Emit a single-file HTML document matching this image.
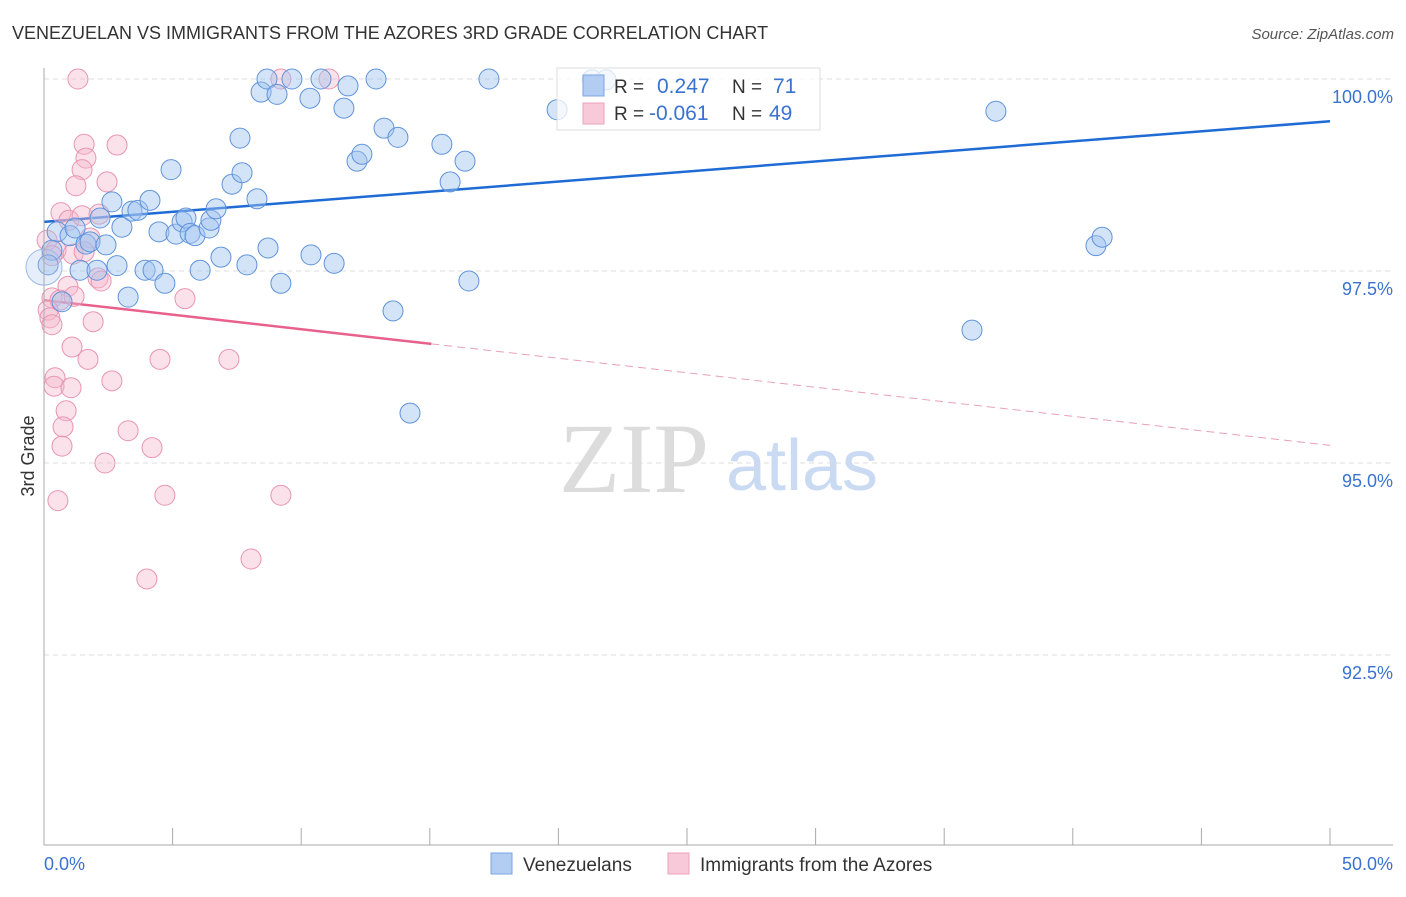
<!DOCTYPE html>
<html><head><meta charset="utf-8"><style>
body{margin:0;background:#fff;font-family:"Liberation Sans",sans-serif;}
svg text{font-family:"Liberation Sans",sans-serif;}
svg text.serif{font-family:"Liberation Serif",serif;}
</style></head><body>
<svg width="1406" height="892" xmlns="http://www.w3.org/2000/svg" id="chart">
<text x="12" y="39" font-size="18" fill="#333">VENEZUELAN VS IMMIGRANTS FROM THE AZORES 3RD GRADE CORRELATION CHART</text>
<text x="1394" y="39" font-size="15" fill="#555" font-style="italic" text-anchor="end">Source: ZipAtlas.com</text>
<text x="34" y="456" font-size="18" fill="#333" text-anchor="middle" transform="rotate(-90 34 456)">3rd Grade</text>
<g id="grid"></g>
<g id="wm">
<text class="serif" x="634" y="492" font-size="100" fill="#dcdcdc" text-anchor="middle">ZIP</text>
<text x="802" y="490" font-size="72" fill="#c9daf2" text-anchor="middle">atlas</text>
</g>
<g id="lines"></g>
<g id="pts"></g>
<g id="axes"></g>
<g>
<rect x="557" y="68" width="263" height="62" fill="rgba(255,255,255,0.75)" stroke="#ddd"/>
<rect x="583" y="75" width="21" height="21" fill="#b3cdf2" stroke="#7aa5e0"/>
<rect x="583" y="103" width="21" height="21" fill="#f8c9d8" stroke="#eda3bb"/>
<text x="614" y="93" font-size="19" fill="#333">R = </text><text x="657" y="93" font-size="21" fill="#3a72d0">0.247</text>
<text x="732" y="93" font-size="19" fill="#333">N = </text><text x="773" y="93" font-size="21" fill="#3a72d0">71</text>
<text x="614" y="120" font-size="19" fill="#333">R = </text><text x="649" y="120" font-size="21" fill="#3a72d0">-0.061</text>
<text x="732" y="120" font-size="19" fill="#333">N = </text><text x="769" y="120" font-size="21" fill="#3a72d0">49</text>
</g>
<g>
<rect x="491" y="853" width="21" height="21" fill="#b3cdf2" stroke="#7aa5e0"/>
<text x="523" y="871" font-size="19" fill="#333">Venezuelans</text>
<rect x="668" y="853" width="21" height="21" fill="#f8c9d8" stroke="#eda3bb"/>
<text x="700" y="871" font-size="19" fill="#333">Immigrants from the Azores</text>
</g>
</svg>
<script>
const blueX=[0.51,0.31,0.70,1.01,1.21,1.40,1.63,1.79,2.06,2.18,2.41,2.64,2.84,3.03,3.27,3.42,3.65,3.93,4.12,4.24,4.47,4.70,4.94,5.13,5.37,5.52,5.68,5.87,6.07,6.42,6.49,6.69,6.88,7.31,7.62,7.70,7.89,8.28,8.44,8.67,8.71,9.06,9.21,9.64,10.34,10.38,10.77,11.28,11.66,11.82,12.17,12.36,12.91,13.22,13.57,13.76,14.23,15.47,15.79,16.37,16.52,17.30,19.95,21.31,21.85,36.08,37.01,40.90,41.14,0.16,0.0];
const blueY=[98.01,97.77,97.10,97.96,98.06,97.51,97.85,97.88,97.51,98.19,97.84,98.40,97.57,98.07,97.16,98.28,98.29,97.51,98.42,97.51,98.01,97.34,98.82,97.98,98.14,98.19,97.99,97.96,97.51,98.06,98.16,98.31,97.68,98.63,99.23,98.78,97.58,98.44,99.83,100,97.80,99.80,97.34,100,99.75,97.71,100,97.60,99.62,99.91,98.93,99.02,100,99.36,96.98,99.24,95.65,99.15,98.66,98.93,97.37,100,99.60,99.99,99.99,96.73,99.58,97.83,97.94,97.58,97.55];
const pinkX=[1.32,1.56,2.84,1.63,1.48,2.45,1.24,0.66,0.97,1.48,2.14,0.12,0.47,1.13,1.79,1.56,2.10,2.22,0.31,0.93,0.31,0.62,1.17,0.16,0.23,0.31,1.91,5.48,1.09,1.71,4.51,7.19,0.43,0.39,1.05,2.64,0.86,0.74,3.27,0.70,4.20,2.37,4.70,0.54,9.21,8.05,4.00,9.21,11.08];
const pinkY=[100,99.15,99.14,98.97,98.82,98.66,98.61,98.26,98.16,98.22,98.24,97.90,97.77,97.72,97.93,97.75,97.41,97.37,97.70,97.30,97.15,97.12,97.17,96.99,96.89,96.80,96.84,97.14,96.51,96.35,96.35,96.35,96.11,96.00,95.98,96.07,95.68,95.47,95.42,95.22,95.20,95.00,94.58,94.51,94.58,93.75,93.49,100,100];
const blueTrend=[98.14,99.45];
const pinkTrend=[97.12,95.23];
const pinkSolidEnd=15.06;
const yTicks=[100,97.5,95,92.5];
const yTickLabels=["100.0%","97.5%","95.0%","92.5%"];
const xTickVals=[0,5,10,15,20,25,30,35,40,45,50];

const NS="http://www.w3.org/2000/svg";
const X0=44,X1=1330,YTOP=79,PXPER=76.8;
function sx(v){return X0+(v/50)*(X1-X0);}
function sy(v){return YTOP+(100-v)*PXPER;}
function mk(tag,attrs,parent){const e=document.createElementNS(NS,tag);for(const k in attrs)e.setAttribute(k,attrs[k]);document.getElementById(parent).appendChild(e);return e;}

yTicks.forEach((t,i)=>{
  const l=mk('line',{x1:X0,x2:1393,y1:sy(t),y2:sy(t),stroke:'#ddd','stroke-dasharray':'5,4'},'grid');
  
  
  const tx=mk('text',{x:1393,y:sy(t)+24,'font-size':18,fill:'#3a72d0','text-anchor':'end'},'axes');
  tx.textContent=yTickLabels[i];
  
  
});
let a=mk('line',{x1:X0,x2:X0,y1:68,y2:845,stroke:'#aaa'},'axes');


a=mk('line',{x1:X0,x2:1393,y1:845,y2:845,stroke:'#aaa'},'axes');


xTickVals.forEach(v=>{
  const t=mk('line',{x1:sx(v),x2:sx(v),y1:828,y2:845,stroke:'#aaa'},'axes');
  
  
});
let t=mk('text',{x:44,y:870,'font-size':18,fill:'#3a72d0'},'axes');t.textContent='0.0%';


t=mk('text',{x:1393,y:870,'font-size':18,fill:'#3a72d0','text-anchor':'end'},'axes');t.textContent='50.0%';



let ln=mk('line',{x1:sx(0),y1:sy(blueTrend[0]),x2:sx(50),y2:sy(blueTrend[1]),stroke:'#1f6bd6','stroke-width':2.5},'lines');


const pAt=x=>pinkTrend[0]+(pinkTrend[1]-pinkTrend[0])*x/50;
ln=mk('line',{x1:sx(0),y1:sy(pAt(0)),x2:sx(pinkSolidEnd),y2:sy(pAt(pinkSolidEnd)),stroke:'#e8608c','stroke-width':2.5},'lines');


ln=mk('line',{x1:sx(pinkSolidEnd),y1:sy(pAt(pinkSolidEnd)),x2:sx(50),y2:sy(pAt(50)),stroke:'#e8a0b8','stroke-width':1,'stroke-dasharray':'8,5'},'lines');



pinkX.forEach((x,i)=>{
  const c=mk('circle',{cx:sx(x),cy:sy(pinkY[i]),r:10,fill:'rgba(246,182,203,0.4)',stroke:'#e994b0','stroke-width':1},'pts');
  
  
});
blueX.forEach((x,i)=>{
  const big=(i===blueX.length-1);
  const c=mk('circle',{cx:sx(x),cy:sy(blueY[i]),r:big?18:10,fill:big?'rgba(170,200,240,0.3)':'rgba(160,195,240,0.45)',stroke:big?'#9dbbe6':'#5f93db','stroke-width':1},'pts');
  
  
});
</script>
</body></html>
